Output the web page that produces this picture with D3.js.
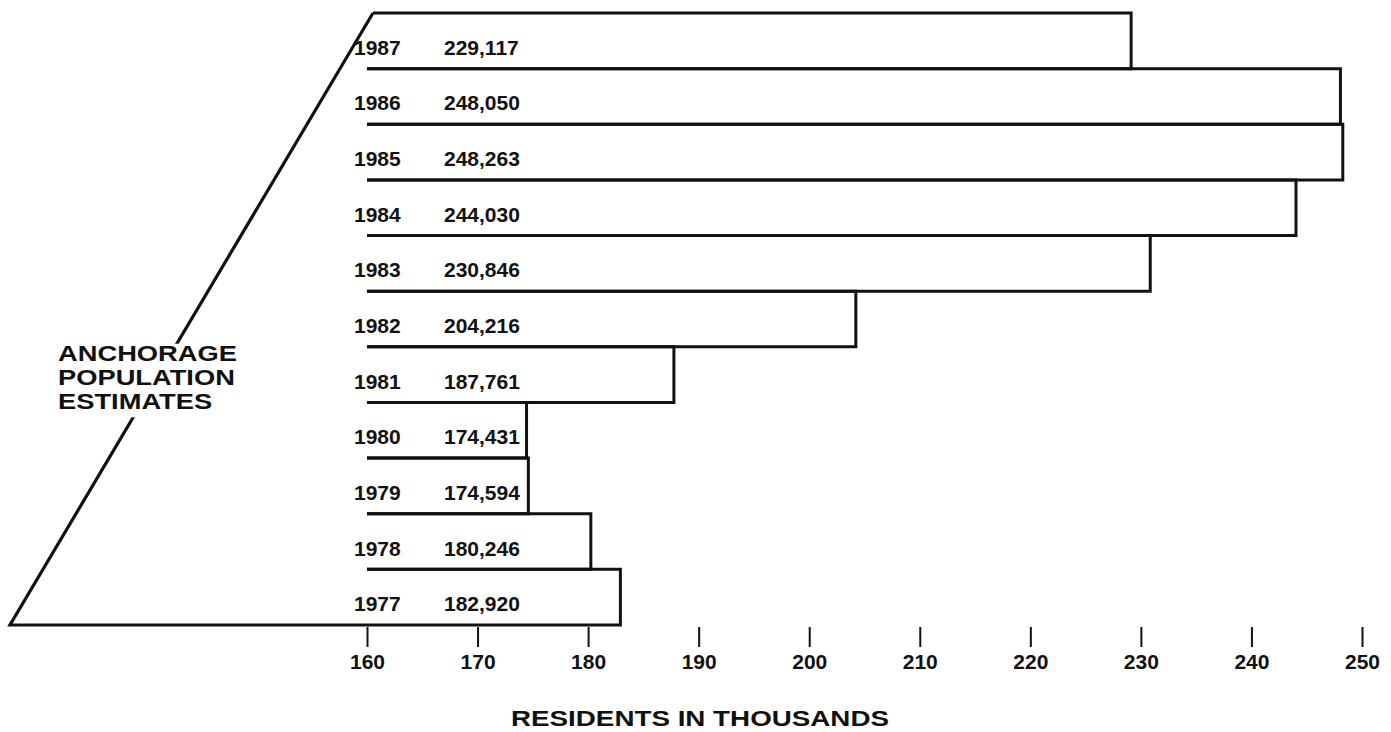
<!DOCTYPE html>
<html>
<head>
<meta charset="utf-8">
<script src="https://cdn.jsdelivr.net/npm/d3@7"></script>
<style>
  body { margin: 0; background: #fff; }
  svg text { font-family: "Liberation Sans", Arial, Helvetica, sans-serif; font-weight: bold; fill: #111; }
</style>
</head>
<body>
<div class="chart"></div>
<script>

// Chart data
var years = [1987, 1986, 1985, 1984, 1983, 1982, 1981, 1980, 1979, 1978, 1977];
var residents = [229117, 248050, 248263, 244030, 230846, 204216, 187761, 174431, 174594, 180246, 182920];
var tickValues = [160, 170, 180, 190, 200, 210, 220, 230, 240, 250];
var titleLines = ["ANCHORAGE", "POPULATION", "ESTIMATES"];
var axisTitle = "RESIDENTS IN THOUSANDS";

// Dimensions
var w = 1391;
var h = 732;
var barsTop = 13;
var barsBottom = 625;
var cornerLeft = 10;
var ink = "#111";

var svg = d3.select(".chart")
  .append("svg")
  .attr("width", w)
  .attr("height", h);

// Scales: thousands of residents on x, one band per year on y
var x = d3.scaleLinear()
  .domain([160, 250])
  .range([367, 1362]);

var y = d3.scaleBand()
  .domain(years)
  .range([barsTop, barsBottom]);

var x0 = x(160);
var cornerTop = x0 + 6;

// Slanted frame on the left
svg.append("path")
  .attr("d", "M" + x0 + "," + barsBottom + "H" + cornerLeft + "L" + cornerTop + "," + barsTop)
  .attr("fill", "none")
  .attr("stroke", ink)
  .attr("stroke-width", 3.2)
  .attr("stroke-linejoin", "miter");

// Bars drawn as open boxes (top, right end, bottom)
svg.selectAll(".bar")
  .data(years)
  .enter()
  .append("path")
  .attr("class", "bar")
  .attr("fill", "none")
  .attr("stroke", ink)
  .attr("stroke-width", 3)
  .attr("d", function(d, i) {
      var start = i === 0 ? cornerTop : x0;
      var end = x(residents[i] / 1000);
      return "M" + start + "," + y(d) + "H" + end + "V" + (y(d) + y.bandwidth()) + "H" + x0;
  });

// Year and value labels inside each bar
var fmt = d3.format(",");

svg.selectAll(".yearLabel")
  .data(years)
  .enter()
  .append("text")
  .attr("class", "yearLabel")
  .attr("x", 354)
  .attr("y", function(d) { return y(d) + y.bandwidth() / 2 + 14; })
  .style("font-size", "21px")
  .text(function(d) { return d; });

svg.selectAll(".valueLabel")
  .data(years)
  .enter()
  .append("text")
  .attr("class", "valueLabel")
  .attr("x", 444)
  .attr("y", function(d) { return y(d) + y.bandwidth() / 2 + 14; })
  .style("font-size", "21px")
  .text(function(d, i) { return fmt(residents[i]); });

// Bottom axis with hanging ticks
var xAxis = d3.axisBottom(x)
  .tickValues(tickValues)
  .tickSize(20)
  .tickPadding(7)
  .tickFormat(d3.format("d"));

var axisG = svg.append("g")
  .attr("transform", "translate(0," + (barsBottom + 2) + ")")
  .call(xAxis);

axisG.select(".domain").remove();
axisG.selectAll(".tick line")
  .attr("stroke", ink)
  .attr("stroke-width", 2);
axisG.selectAll(".tick text")
  .attr("fill", ink)
  .style("font-size", "21px")
  .style("font-family", "'Liberation Sans', Arial, sans-serif")
  .style("font-weight", "bold");

// Axis title
svg.append("text")
  .attr("x", 700)
  .attr("y", 726)
  .attr("text-anchor", "middle")
  .attr("textLength", 378)
  .attr("lengthAdjust", "spacingAndGlyphs")
  .style("font-size", "22px")
  .text(axisTitle);

// Chart title on a white patch that breaks the slanted frame
var titleG = svg.append("g");

var titleText = titleG.append("g")
  .attr("transform", "translate(58,0) scale(1.27,1)");

titleText.selectAll("text")
  .data(titleLines)
  .enter()
  .append("text")
  .attr("x", 0)
  .attr("y", function(d, i) { return 361 + i * 24; })
  .style("font-size", "21.5px")
  .text(function(d) { return d; });

var box = titleG.node().getBBox();
titleG.insert("rect", ":first-child")
  .attr("x", box.x - 4)
  .attr("y", box.y + 2)
  .attr("width", box.width + 8)
  .attr("height", box.height + 2)
  .attr("fill", "#fff");

</script>
</body>
</html>
